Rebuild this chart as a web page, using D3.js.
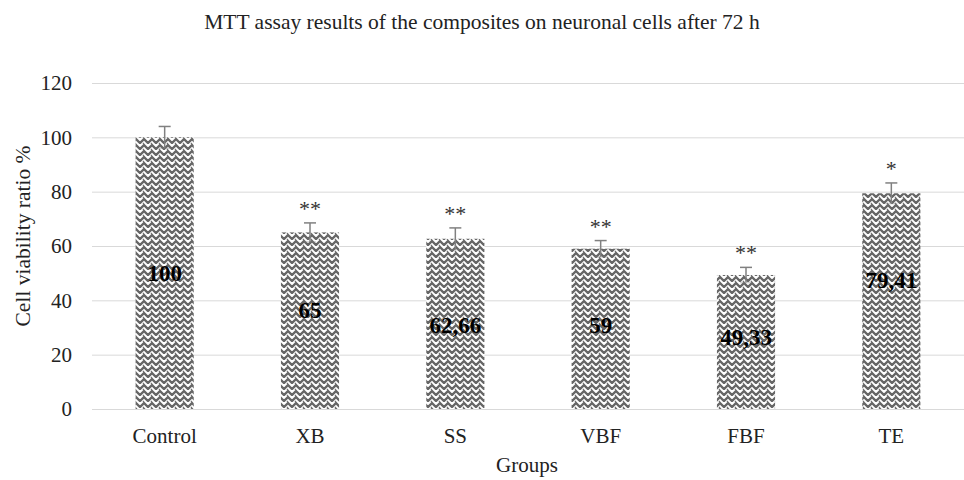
<!DOCTYPE html>
<html>
<head>
<meta charset="utf-8">
<script src="https://cdn.jsdelivr.net/npm/d3@7"></script>
<style>
  html, body { margin: 0; padding: 0; background: #fff; }
  svg { display: block; }
  svg text { font-family: "Liberation Serif", "Times New Roman", serif !important; }
</style>
</head>
<body>
<svg id="chart" width="964" height="480"></svg>
<script>
// ---- data ----
const categories = ["Control", "XB", "SS", "VBF", "FBF", "TE"];
const values = [100, 65, 62.66, 59, 49.33, 79.41];
const valueLabels = ["100", "65", "62,66", "59", "49,33", "79,41"];
const errors = [4, 3.5, 4, 3, 2.8, 3.8];
const significance = ["", "**", "**", "**", "**", "*"];
const labelAt = [50, 36.5, 31, 31, 26.6, 47.5];
const yTicks = [0, 20, 40, 60, 80, 100, 120];
const title = "MTT assay results of the composites on neuronal cells after 72 h";
const xTitle = "Groups";
const yTitle = "Cell viability ratio %";

// ---- drawing ----
const FONT = "'Liberation Serif', 'Times New Roman', serif";
const svg = d3.select("#chart");
const margin = { left: 92, right: 0, top: 83, bottom: 71 };
const W = 964, H = 480;

const x = d3.scaleBand().domain(categories)
  .range([margin.left, W - margin.right])
  .paddingInner(0.6).paddingOuter(0.3);
const y = d3.scaleLinear().domain([0, 120]).range([H - margin.bottom, margin.top]);

// pattern
const defs = svg.append("defs");
const pat = defs.append("pattern").attr("id", "zig")
  .attr("patternUnits", "userSpaceOnUse").attr("width", 8).attr("height", 6);
pat.append("rect").attr("width", 8).attr("height", 6).attr("fill", "#fff");
pat.append("path").attr("d", "M-1,0 L0,1 L4,5 L8,1 L9,0")
  .attr("fill", "none").attr("stroke", "#666").attr("stroke-width", 2.4);
pat.append("path").attr("d", "M-1,6 L0,7 M7,7 L8,6 L9,5")
  .attr("fill", "none").attr("stroke", "#666").attr("stroke-width", 2.4);

// gridlines
const yAxis = d3.axisLeft(y).tickValues(yTicks).tickSize(-(W - margin.left - margin.right)).tickPadding(20);
const gy = svg.append("g").attr("transform", `translate(${margin.left},0)`).call(yAxis)
  .attr("font-family", FONT).attr("font-size", 21);
gy.select(".domain").remove();
gy.selectAll(".tick line").attr("stroke", "#d9d9d9").attr("stroke-width", 1);
gy.selectAll(".tick text").attr("fill", "#222");

// bars
svg.append("g").selectAll("rect").data(categories).join("rect")
  .attr("x", d => x(d))
  .attr("y", (d, i) => y(values[i]))
  .attr("width", x.bandwidth())
  .attr("height", (d, i) => y(0) - y(values[i]))
  .attr("fill", "url(#zig)");

// error bars
const eg = svg.append("g").attr("stroke", "#808080").attr("stroke-width", 1.5);
categories.forEach((c, i) => {
  const cx = x(c) + x.bandwidth() / 2;
  eg.append("line").attr("x1", cx).attr("x2", cx)
    .attr("y1", y(values[i] - errors[i])).attr("y2", y(values[i] + errors[i]));
  eg.append("line").attr("x1", cx - 6).attr("x2", cx + 6)
    .attr("y1", y(values[i] + errors[i])).attr("y2", y(values[i] + errors[i]));
  eg.append("line").attr("x1", cx - 6).attr("x2", cx + 6)
    .attr("y1", y(values[i] - errors[i])).attr("y2", y(values[i] - errors[i]))
    .attr("stroke-opacity", 0.35);
});

// significance
svg.append("g").selectAll("text").data(categories).join("text")
  .attr("x", d => x(d) + x.bandwidth() / 2)
  .attr("y", (d, i) => y(values[i] + errors[i]) - 7)
  .attr("text-anchor", "middle")
  .attr("font-size", 22).attr("fill", "#333")
  .text((d, i) => significance[i]);

// value labels
svg.append("g").selectAll("text").data(categories).join("text")
  .attr("x", d => x(d) + x.bandwidth() / 2)
  .attr("y", (d, i) => y(labelAt[i]))
  .attr("dy", "0.35em")
  .attr("text-anchor", "middle")
  .attr("font-size", 23).attr("font-weight", "bold").attr("fill", "#000")
  .text((d, i) => valueLabels[i]);

// x axis labels
const xAxis = d3.axisBottom(x).tickSize(0).tickPadding(19);
const gx = svg.append("g").attr("transform", `translate(0,${y(0)})`).call(xAxis)
  .attr("font-family", FONT).attr("font-size", 21);
gx.select(".domain").remove();
gx.selectAll(".tick text").attr("fill", "#222");

// titles
svg.append("text").attr("x", 482).attr("y", 29).attr("text-anchor", "middle")
  .attr("font-size", 21.5).attr("fill", "#222").text(title);
svg.append("text").attr("x", (margin.left + W) / 2 - 1).attr("y", 472).attr("text-anchor", "middle")
  .attr("font-size", 21).attr("fill", "#222").text(xTitle);
svg.append("text").attr("transform", `translate(30,236) rotate(-90)`)
  .attr("text-anchor", "middle").attr("font-size", 21.5).attr("fill", "#222").text(yTitle);
</script>
</body>
</html>
